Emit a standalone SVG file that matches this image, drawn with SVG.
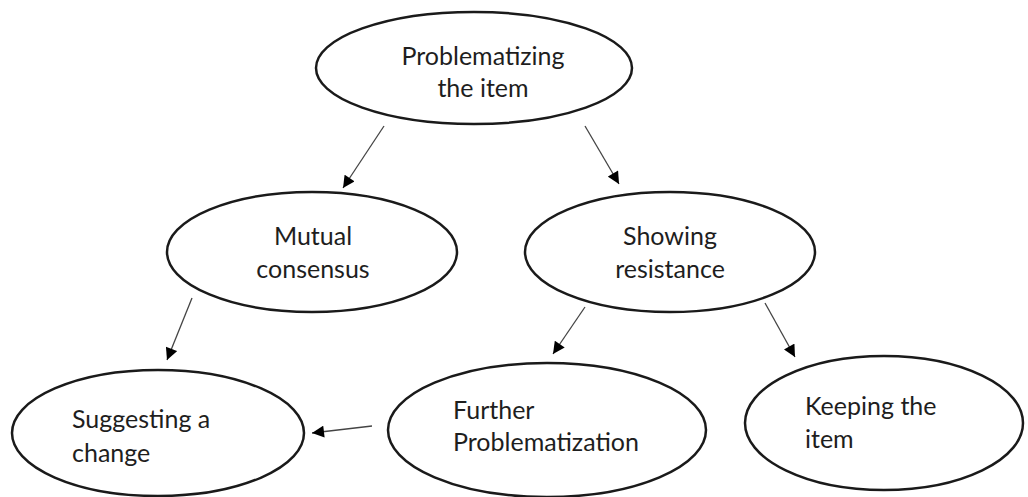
<svg xmlns="http://www.w3.org/2000/svg" width="1028" height="497" viewBox="0 0 1028 497">
<defs>
<marker id="ah" viewBox="0 0 10 10" refX="10" refY="5" markerWidth="13" markerHeight="12" markerUnits="userSpaceOnUse" orient="auto">
<path d="M0,0 L10,5 L0,10 z" fill="#000"/>
</marker>
<style>
.n ellipse{fill:#fff;stroke:#1a1a1a;stroke-width:2.5}
.n text{font-family:"Lato","Open Sans",sans-serif;font-size:25px;fill:#1e1e1e}
.c line{stroke:#444;stroke-width:1.3;marker-end:url(#ah)}
</style>
</defs>
<rect width="1028" height="497" fill="#fff"/>
<g class="c" id="connectors">
<line x1="384" y1="126" x2="343" y2="188"/>
<line x1="585" y1="126" x2="619" y2="184"/>
<line x1="192" y1="298" x2="167" y2="360"/>
<line x1="585" y1="307" x2="553" y2="354"/>
<line x1="765" y1="303" x2="795" y2="357"/>
<line x1="372" y1="426" x2="312" y2="433"/>
</g>
<g class="n" id="problematizing">
<ellipse cx="474" cy="68" rx="158" ry="56"/>
<text x="483" y="65" text-anchor="middle">Problematizing</text>
<text x="483" y="97" text-anchor="middle">the item</text>
</g>
<g class="n" id="mutual">
<ellipse cx="312" cy="252" rx="145" ry="60"/>
<text x="313" y="245" text-anchor="middle">Mutual</text>
<text x="313" y="278" text-anchor="middle">consensus</text>
</g>
<g class="n" id="showing">
<ellipse cx="670" cy="252" rx="145" ry="60"/>
<text x="670" y="245" text-anchor="middle">Showing</text>
<text x="670" y="278" text-anchor="middle">resistance</text>
</g>
<g class="n" id="suggesting">
<ellipse cx="158" cy="433" rx="146" ry="63"/>
<text x="72" y="428">Suggesting a</text>
<text x="72" y="462">change</text>
</g>
<g class="n" id="further">
<ellipse cx="547" cy="430" rx="159" ry="67"/>
<text x="453" y="419">Further</text>
<text x="453" y="451">Problematization</text>
</g>
<g class="n" id="keeping">
<ellipse cx="884" cy="423" rx="139" ry="67"/>
<text x="805" y="415">Keeping the</text>
<text x="805" y="448">item</text>
</g>
</svg>
